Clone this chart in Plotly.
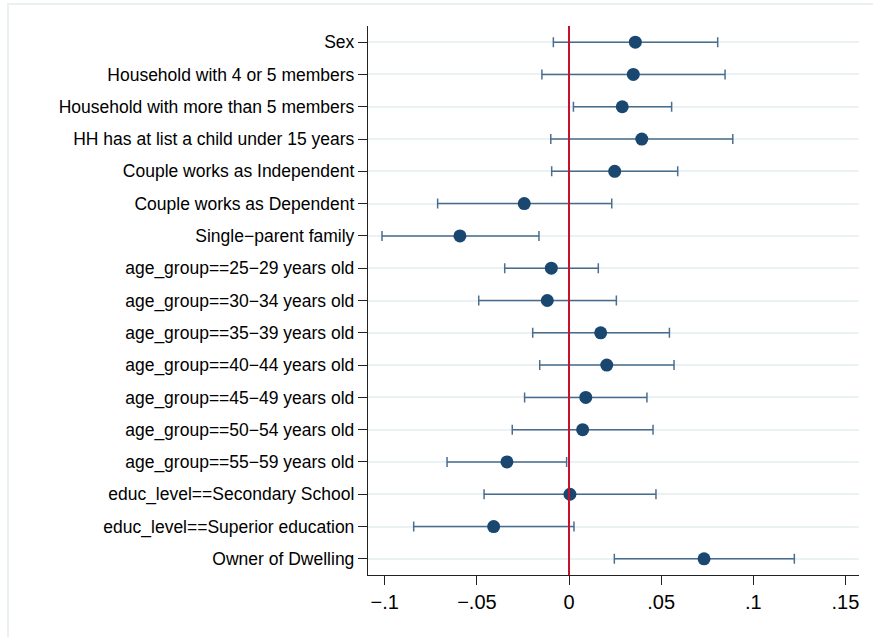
import plotly.graph_objects as go

labels = [
    "Sex",
    "Household with 4 or 5 members",
    "Household with more than 5 members",
    "HH has at list a child under 15 years",
    "Couple works as Independent",
    "Couple works as Dependent",
    "Single\u2212parent family",
    "age_group==25\u221229 years old",
    "age_group==30\u221234 years old",
    "age_group==35\u221239 years old",
    "age_group==40\u221244 years old",
    "age_group==45\u221249 years old",
    "age_group==50\u221254 years old",
    "age_group==55\u221259 years old",
    "educ_level==Secondary School",
    "educ_level==Superior education",
    "Owner of Dwelling",
]
coef = [0.0360, 0.0349, 0.0289, 0.0395, 0.0248, -0.0243, -0.0592, -0.0096, -0.0118,
        0.0172, 0.0205, 0.0091, 0.0074, -0.0337, 0.0005, -0.0409, 0.0733]
ci_low = [-0.0085, -0.0147, 0.0024, -0.0099, -0.0094, -0.0713, -0.1015, -0.0349, -0.0490,
          -0.0197, -0.0159, -0.0241, -0.0308, -0.0662, -0.0461, -0.0843, 0.0246]
ci_high = [0.0807, 0.0847, 0.0557, 0.0889, 0.0590, 0.0232, -0.0163, 0.0159, 0.0257,
           0.0545, 0.0570, 0.0423, 0.0456, -0.0013, 0.0472, 0.0027, 0.1223]

xtick_vals = [-0.1, -0.05, 0, 0.05, 0.1, 0.15]
xtick_text = ["\u2212.1", "\u2212.05", "0", ".05", ".1", ".15"]

pos = list(range(1, len(labels) + 1))
plus = [h - c for h, c in zip(ci_high, coef)]
minus = [c - l for c, l in zip(coef, ci_low)]

font_family = "Liberation Sans, Arial, Helvetica, sans-serif"

fig = go.Figure()
fig.add_trace(go.Scatter(
    x=coef, y=pos, mode="markers",
    marker=dict(color="#1a476f", size=13, line=dict(width=0)),
    error_x=dict(type="data", array=plus, arrayminus=minus, symmetric=False,
                 color="rgba(26,71,111,0.78)", thickness=1.5, width=5),
    showlegend=False,
))

fig.add_shape(type="line", xref="x", yref="y domain", x0=0, x1=0, y0=0, y1=1,
              line=dict(color="#c8102e", width=2), layer="above")
# outer graph region border
fig.add_shape(type="rect", xref="paper", yref="paper",
              x0=(8 - 368) / 491, x1=(880 - 368) / 491,
              y0=(575 - 645) / 549, y1=(575 - 4) / 549,
              line=dict(color="#eaf0f1", width=2), fillcolor="rgba(0,0,0,0)", layer="below")

fig.update_layout(
    width=873, height=637,
    margin=dict(l=368, r=14, t=26, b=62),
    paper_bgcolor="white", plot_bgcolor="white",
    font=dict(family=font_family, color="black"),
)
fig.update_xaxes(
    range=[-0.1091, 0.1574], tickvals=xtick_vals, ticktext=xtick_text,
    showline=True, linecolor="#222", linewidth=1.3, mirror=False,
    ticks="outside", ticklen=9, tickcolor="#222", tickwidth=1.3,
    showgrid=False, zeroline=False, tickfont=dict(size=20, family=font_family),
)
fig.update_yaxes(
    range=[17.5, 0.5], tickvals=pos, ticktext=labels,
    showline=True, linecolor="#222", linewidth=1.3,
    ticks="outside", ticklen=9, tickcolor="#222", tickwidth=1.3,
    showgrid=True, gridcolor="#eaf2f3", gridwidth=1.5, zeroline=False,
    tickfont=dict(size=17.5, family=font_family),
)

fig.write_html("out.html")
